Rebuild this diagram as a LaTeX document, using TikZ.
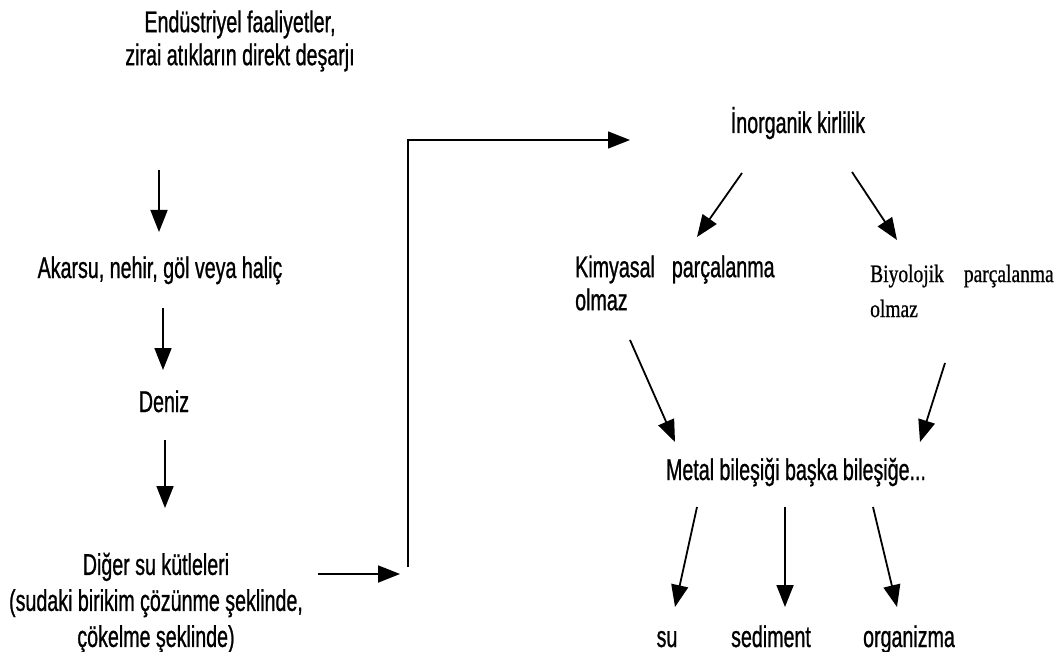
\documentclass[tikz,border=0pt]{standalone}
\usepackage{fontspec}
\setmainfont{Liberation Sans}[FakeStretch=0.655, FakeBold=0.8]
\newfontfamily\timesfont{Liberation Serif}[FakeStretch=0.78, FakeBold=0.8]
\usepackage{xcolor}
\usetikzlibrary{arrows.meta, positioning, calc}
\definecolor{InkBlack}{HTML}{000000}
\definecolor{PaperWhite}{HTML}{ffffff}
\tikzset{
    % Plain text nodes, no frame
    txt/.style={
        inner sep=0pt,
        align=center,
        text=InkBlack,
        font=\fontsize{30}{36}\selectfont
    },
    % Left-aligned two-line note
    note/.style={
        txt,
        align=left,
        anchor=west
    },
    % Arrow style
    arrow/.style={
        -{Triangle[length=22pt, width=17pt]},
        line width=1.8pt,
        color=InkBlack
    },
    % Bent connector
    elbow/.style={
        arrow,
        line width=1.4pt
    }
}
\begin{document}
\begin{tikzpicture}[x=1pt, y=-1pt]
        \useasboundingbox [fill=PaperWhite] (0,0) rectangle (1062,652);

        % Left column
        \node (src) [txt, font=\fontsize{30}{33}\selectfont] at (240,41) {Endüstriyel faaliyetler,\\zirai atıkların direkt deşarjı};
        \node (akarsu) [txt, anchor=base] at (160,278) {Akarsu, nehir, göl veya haliç};
        \node (deniz) [txt, anchor=base] at (164,412) {Deniz};
        \node (diger) [txt] at (156,603) {Diğer su kütleleri\\(sudaki birikim çözünme şeklinde,\\çökelme şeklinde)};
        \coordinate (gate) at (400,574);
        \coordinate (riser) at (408,567);

        % Right side
        \node (inorg) [txt, anchor=base] at (798,133) {İnorganik kirlilik};
        \node (kimya) [note, font=\fontsize{30}{33}\selectfont] at (575,283) {Kimyasal\hspace{17pt}parçalanma\\olmaz};
        \node (biyo) [note, font=\timesfont\fontsize{25}{35}\selectfont] at (870,291) {Biyolojik\hspace{20pt}parçalanma\\olmaz};
        \node (metal) [txt, anchor=base] at (796,480) {Metal bileşiği başka bileşiğe...};
        \node (su) [txt, anchor=base] at (667,647) {su};
        \node (sediment) [txt, anchor=base] at (771,647) {sediment};
        \node (organizma) [txt, anchor=base] at (909,647) {organizma};

        \draw [arrow] ([shift={(-81,129)}]src.center) -- ([shift={(-1,-46)}]akarsu.base);
        \draw [arrow] ([shift={(3,30)}]akarsu.base) -- ([shift={(-1,-42)}]deniz.base);
        \draw [arrow] ([shift={(1,28)}]deniz.base) -- ([shift={(9,-95)}]diger.center);
        \draw [arrow] ([shift={(162,-29)}]diger.center) -- (gate);
        \draw [elbow] (riser) |- ([shift={(-168,7)}]inorg.base);

        \draw [arrow] ([shift={(-56,40)}]inorg.base) -- ([shift={(122,-46)}]kimya.west);
        \draw [arrow] ([shift={(54,39)}]inorg.base) -- ([shift={(27,-51)}]biyo.west);
        \draw [arrow] ([shift={(55,57)}]kimya.west) -- ([shift={(-121,-38)}]metal.base);
        \draw [arrow] ([shift={(75,72)}]biyo.west) -- ([shift={(124,-38)}]metal.base);

        \draw [arrow] ([shift={(-99,27)}]metal.base) -- ([shift={(8,-40)}]su.base);
        \draw [arrow] ([shift={(-11,27)}]metal.base) -- ([shift={(14,-40)}]sediment.base);
        \draw [arrow] ([shift={(77,27)}]metal.base) -- ([shift={(-12,-40)}]organizma.base);
    \end{tikzpicture}
\end{document}
